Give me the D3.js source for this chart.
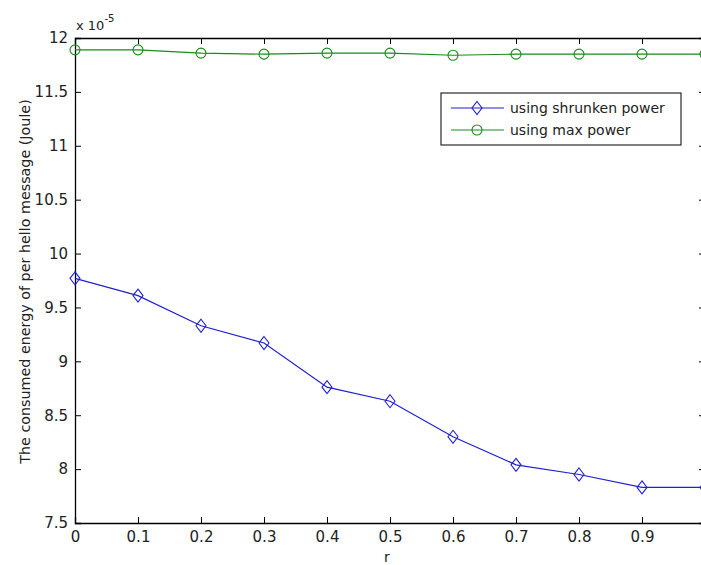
<!DOCTYPE html>
<html><head><meta charset="utf-8">
<script src="https://cdn.jsdelivr.net/npm/d3@7"></script>
<style>body{margin:0;background:#fff}svg{display:block}text{font-family:"DejaVu Sans",sans-serif}</style>
</head><body>
<svg id="c" width="701" height="565"></svg>
<script>
const xValues = [0,0.1,0.2,0.3,0.4,0.5,0.6,0.7,0.8,0.9,1.0];
const shrunken = [9.77,9.61,9.33,9.17,8.76,8.63,8.30,8.04,7.95,7.83,7.83];
const maxPower = [11.89,11.89,11.86,11.85,11.86,11.86,11.84,11.85,11.85,11.85,11.85];
const xTicks = [0,0.1,0.2,0.3,0.4,0.5,0.6,0.7,0.8,0.9,1];
const yTicks = [7.5,8,8.5,9,9.5,10,10.5,11,11.5,12];
const seriesNames = ["using shrunken power","using max power"];

const svg = d3.select("#c");
const L=75, R=705, T=38, B=523;
const x = d3.scaleLinear().domain([0,1]).range([L,R]);
const y = d3.scaleLinear().domain([7.5,12]).range([B,T]);
const fmt = d => String(d);

const g = svg.append("g");
const axB = d3.axisBottom(x).tickValues(xTicks).tickSize(-6).tickPadding(8).tickFormat(fmt);
const axT = d3.axisTop(x).tickValues(xTicks).tickSize(-6).tickFormat("");
const axLft = d3.axisLeft(y).tickValues(yTicks).tickSize(-6).tickPadding(7).tickFormat(fmt);
const axRt = d3.axisRight(y).tickValues(yTicks).tickSize(-6).tickFormat("");
function style(sel){sel.selectAll("path,line").attr("stroke","#000").attr("stroke-width",1);sel.selectAll("text").attr("font-size",15).attr("fill","#222").attr("font-family","Liberation Sans");sel.select(".domain").attr("stroke-width",1.3);}
g.append("g").attr("transform",`translate(0,${B})`).call(axB).call(style);
g.append("g").attr("transform",`translate(0,${T})`).call(axT).call(style);
g.append("g").attr("transform",`translate(${L},0)`).call(axLft).call(style);
g.append("g").attr("transform",`translate(${R},0)`).call(axRt).call(style);

const ex = svg.append("text").attr("x",76).attr("y",30).attr("font-size",13).attr("fill","#222");
ex.append("tspan").text("x 10");
ex.append("tspan").attr("dy",-8).attr("font-size",10).text("-5");

svg.append("text").attr("x",387).attr("y",562).attr("text-anchor","middle").attr("font-size",14).attr("fill","#222").text("r");
svg.append("text").attr("transform",`translate(30,${(T+B)/2+1}) rotate(-90)`).attr("text-anchor","middle").attr("font-size",14.3).attr("fill","#222").text("The consumed energy of per hello message (Joule)");

const line = d3.line().x((d,i)=>x(xValues[i])).y(d=>y(d));
const blue="#2020d0", green="#1a8a1a";
svg.append("path").datum(shrunken).attr("d",line).attr("fill","none").attr("stroke",blue).attr("stroke-width",1.2);
svg.append("path").datum(maxPower).attr("d",line).attr("fill","none").attr("stroke",green).attr("stroke-width",1.2);
const diamond = (cx,cy)=>`M${cx},${cy-6.5}L${cx+5},${cy}L${cx},${cy+6.5}L${cx-5},${cy}Z`;
svg.selectAll(".dm").data(shrunken).enter().append("path").attr("d",(d,i)=>diamond(x(xValues[i]),y(d))).attr("fill","none").attr("stroke",blue).attr("stroke-width",1.1);
svg.selectAll(".ci").data(maxPower).enter().append("circle").attr("cx",(d,i)=>x(xValues[i])).attr("cy",d=>y(d)).attr("r",5).attr("fill","none").attr("stroke",green).attr("stroke-width",1.1);

const lg = svg.append("g");
lg.append("rect").attr("x",441).attr("y",93).attr("width",240).attr("height",52).attr("fill","#fff").attr("stroke","#000").attr("stroke-width",1);
const colors=[blue,green];
seriesNames.forEach((n,i)=>{
  const yy = 93+15+i*22;
  lg.append("line").attr("x1",451).attr("x2",504).attr("y1",yy).attr("y2",yy).attr("stroke",colors[i]).attr("stroke-width",1.2);
  if(i===0) lg.append("path").attr("d",diamond(477,yy)).attr("fill","none").attr("stroke",blue).attr("stroke-width",1.1);
  else lg.append("circle").attr("cx",477).attr("cy",yy).attr("r",5).attr("fill","none").attr("stroke",green).attr("stroke-width",1.1);
  lg.append("text").attr("x",510).attr("y",yy+5).attr("font-size",14).attr("fill","#222").text(n);
});
</script>
</body></html>
